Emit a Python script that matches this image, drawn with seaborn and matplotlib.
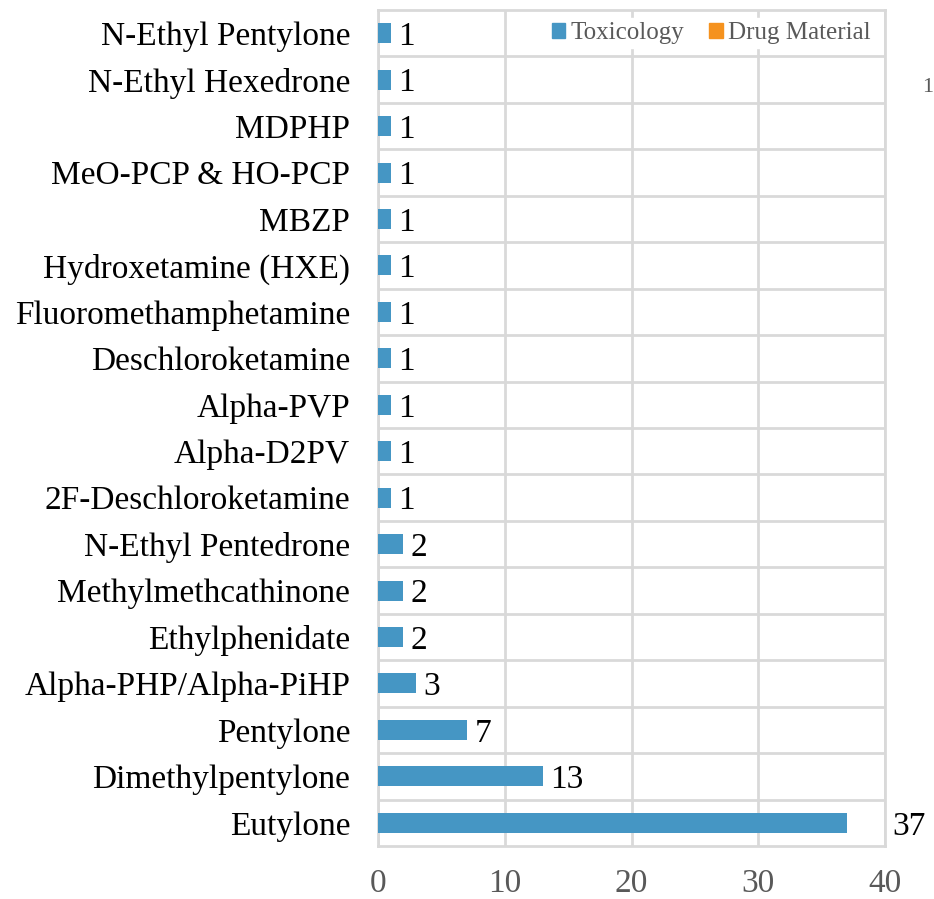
import matplotlib
matplotlib.use("Agg")
import matplotlib.pyplot as plt
import seaborn as sns
import pandas as pd
from matplotlib.patches import Patch

categories = ["N-Ethyl Pentylone", "N-Ethyl Hexedrone", "MDPHP", "MeO-PCP & HO-PCP",
              "MBZP", "Hydroxetamine (HXE)", "Fluoromethamphetamine", "Deschloroketamine",
              "Alpha-PVP", "Alpha-D2PV", "2F-Deschloroketamine", "N-Ethyl Pentedrone",
              "Methylmethcathinone", "Ethylphenidate", "Alpha-PHP/Alpha-PiHP", "Pentylone",
              "Dimethylpentylone", "Eutylone"]
toxicology = [1, 1, 1, 1, 1, 1, 1, 1, 1, 1, 1, 2, 2, 2, 3, 7, 13, 37]
drug_material = [0] * 18
series_names = ["Toxicology", "Drug Material"]
xticks = [0, 10, 20, 30, 40]

BLUE = "#4596C4"
ORANGE = "#F5921E"
GRID = "#D9D9D9"
TXT_GRAY = "#595959"

sns.set_style("white")
plt.rcParams["font.family"] = ["Liberation Serif", "DejaVu Serif"]

df = pd.DataFrame({
    "category": categories * 2,
    "value": toxicology + drug_material,
    "series": [series_names[0]] * 18 + [series_names[1]] * 18,
})

fig = plt.figure(figsize=(9.34, 8.99), dpi=100)
ax = fig.add_axes([378 / 934, 1 - 846 / 899, (885 - 378) / 934, (846 - 10) / 899])

sns.barplot(data=df, y="category", x="value", hue="series", order=categories,
            hue_order=series_names, palette=[BLUE, ORANGE], dodge=False,
            saturation=1, width=0.43, linewidth=0, ax=ax, legend=False, zorder=3)

ax.set_xlim(0, 40)
ax.set_ylim(len(categories) - 0.5, -0.5)
ax.set_xticks(xticks)
ax.set_xticklabels([str(t) for t in xticks], fontsize=24, color=TXT_GRAY)
ax.tick_params(axis="x", length=0, pad=16)
ax.tick_params(axis="y", length=0, pad=20, labelsize=24, labelcolor="black")
ax.set_xlabel("")
ax.set_ylabel("")

ax.set_yticks([i + 0.5 for i in range(len(categories) - 1)], minor=True)
ax.tick_params(axis="y", which="minor", length=0)
ax.grid(True, axis="x", color=GRID, linewidth=2, zorder=0)
ax.grid(True, axis="y", which="minor", color=GRID, linewidth=2, zorder=0)
ax.grid(False, axis="y", which="major")
ax.set_axisbelow(True)
for s in ax.spines.values():
    s.set_color(GRID)
    s.set_linewidth(2)

for i, v in enumerate(toxicology):
    if v >= 30:
        x = 40.6
    else:
        x = v + 0.6
    ax.text(x, i, str(v), va="center_baseline", ha="left", fontsize=24, color="black",
            clip_on=False)

handles = [Patch(facecolor=BLUE, edgecolor=BLUE), Patch(facecolor=ORANGE, edgecolor=ORANGE)]
leg = ax.legend(handles, series_names, loc="center right", ncol=2, fontsize=18,
                frameon=True, fancybox=False, facecolor="white", edgecolor="white",
                framealpha=1, borderpad=0.15,
                handlelength=0.55, handleheight=0.55, handletextpad=0.2,
                columnspacing=1.0, borderaxespad=0.0,
                bbox_to_anchor=(0.979, 1 - 0.5 / len(categories)))
for t in leg.get_texts():
    t.set_color(TXT_GRAY)
leg.set_zorder(5)

fig.text(933 / 934, 1 - 88 / 899, "1", fontsize=16, color=TXT_GRAY, va="center", ha="right")

fig.savefig("out.png", dpi=100)
